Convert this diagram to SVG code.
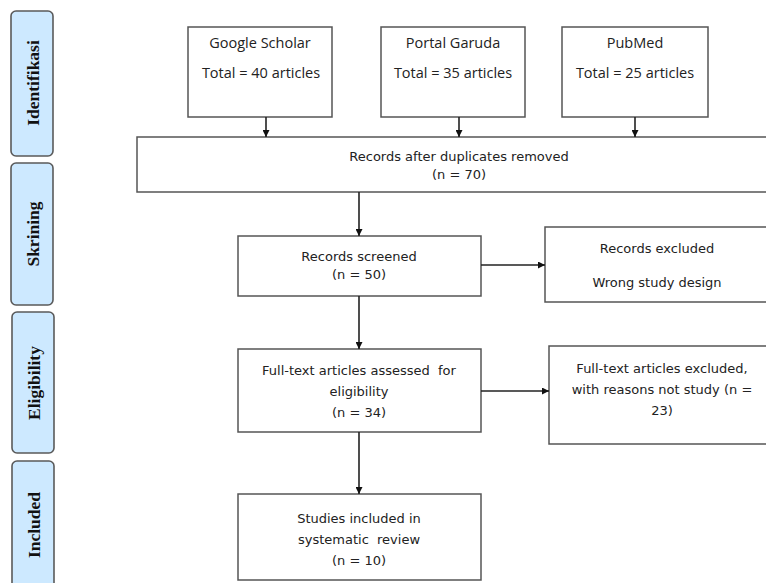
<svg xmlns="http://www.w3.org/2000/svg" width="766" height="583" viewBox="0 0 766 583">
<style>
.side rect{fill:#cde9ff;stroke:#5a5a5a;stroke-width:1.6}
.side text{font-family:"Liberation Serif",serif;font-weight:bold;font-size:17.5px;fill:#111;text-anchor:middle}
.box rect{fill:#fff;stroke:#555;stroke-width:1.5}
.box text{font-family:"DejaVu Sans",sans-serif;font-size:13px;fill:#222;text-anchor:middle}
.top text{font-family:"Open Sans",sans-serif;font-size:14.5px}
.conn line{stroke:#222;stroke-width:1.6;marker-end:url(#ah)}
</style>
<defs>
<marker id="ah" viewBox="0 0 10 10" refX="10" refY="5" markerWidth="7" markerHeight="7" markerUnits="userSpaceOnUse" orient="auto">
<path d="M0,0 L10,5 L0,10 z" fill="#111"/>
</marker>
</defs>
<rect width="766" height="583" fill="#fff"/>
<g id="side-identifikasi" class="side"><rect x="11" y="11" width="42" height="145" rx="5"/><text transform="translate(39,83) rotate(-90)">Identifikasi</text></g>
<g id="side-skrining" class="side"><rect x="11" y="163" width="42" height="142" rx="5"/><text transform="translate(39,234) rotate(-90)">Skrining</text></g>
<g id="side-eligibility" class="side"><rect x="12" y="312" width="42" height="141" rx="5"/><text transform="translate(40,383) rotate(-90)">Eligibility</text></g>
<g id="side-included" class="side"><rect x="12" y="461" width="42" height="140" rx="5"/><text transform="translate(40,525) rotate(-90)">Included</text></g>

<g id="google" class="box top"><rect x="188" y="27" width="144" height="90"/><text x="260" y="48">Google Scholar</text><text x="261" y="78">Total = 40 articles</text></g>
<g id="garuda" class="box top"><rect x="381" y="27" width="144" height="90"/><text x="453" y="48">Portal Garuda</text><text x="453" y="78">Total = 35 articles</text></g>
<g id="pubmed" class="box top"><rect x="562" y="27" width="146" height="90"/><text x="635" y="48">PubMed</text><text x="635" y="78">Total = 25 articles</text></g>

<g id="dedup" class="box"><rect x="137" y="137" width="640" height="55"/><text x="459" y="161">Records after duplicates removed</text><text x="459" y="179">(n = 70)</text></g>
<g id="screened" class="box"><rect x="238" y="236" width="243" height="60"/><text x="359" y="261">Records screened</text><text x="359" y="279">(n = 50)</text></g>
<g id="excluded" class="box"><rect x="545" y="227" width="230" height="75"/><text x="657" y="253">Records excluded</text><text x="657" y="287">Wrong study design</text></g>
<g id="fulltext" class="box"><rect x="238" y="349" width="243" height="83"/><text x="359" y="375" xml:space="preserve">Full-text articles assessed  for</text><text x="359" y="396">eligibility</text><text x="359" y="417">(n = 34)</text></g>
<g id="ftexcluded" class="box"><rect x="549" y="346" width="226" height="98"/><text x="662" y="373">Full-text articles excluded,</text><text x="662" y="394">with reasons not study (n =</text><text x="662" y="415">23)</text></g>
<g id="included" class="box"><rect x="238" y="494" width="243" height="86"/><text x="359" y="523">Studies included in</text><text x="359" y="544" xml:space="preserve">systematic  review</text><text x="359" y="565">(n = 10)</text></g>

<g id="connectors" class="conn">
<line x1="266" y1="117" x2="266" y2="137"/>
<line x1="459" y1="117" x2="459" y2="137"/>
<line x1="635" y1="117" x2="635" y2="137"/>
<line x1="359" y1="192" x2="359" y2="236"/>
<line x1="481" y1="265" x2="545" y2="265"/>
<line x1="359" y1="296" x2="359" y2="349"/>
<line x1="481" y1="391" x2="549" y2="391"/>
<line x1="359" y1="432" x2="359" y2="494"/>
</g>
</svg>
